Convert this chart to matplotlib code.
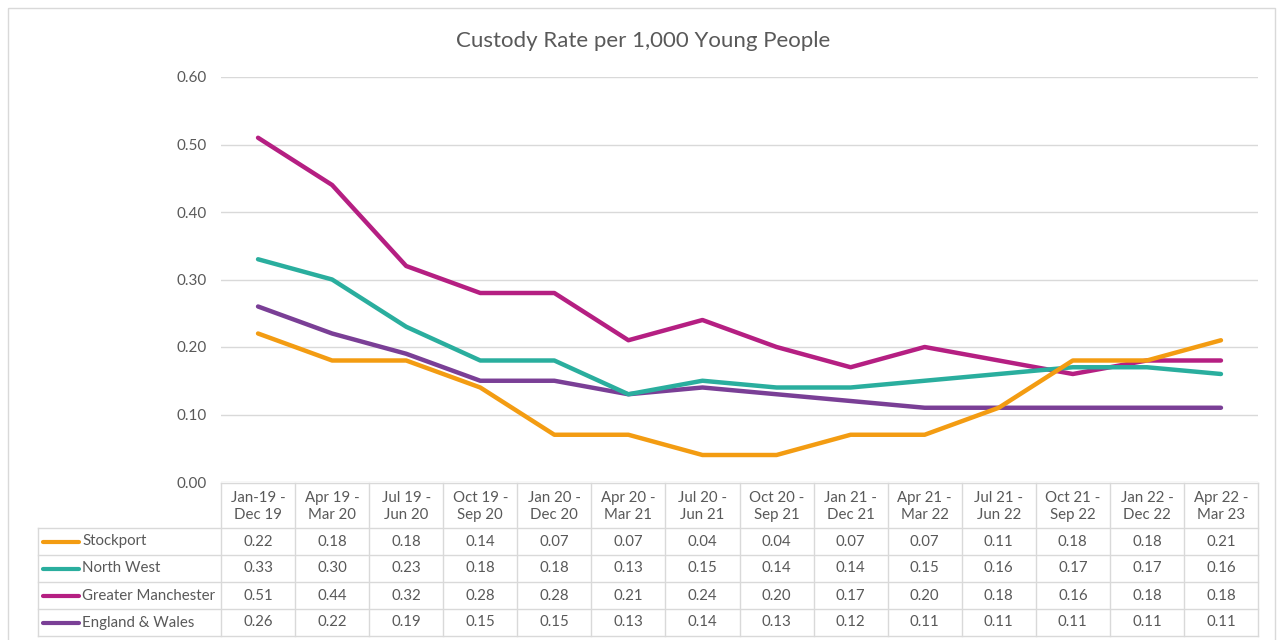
import matplotlib.pyplot as plt
from matplotlib.patches import Rectangle

# periods (two-line labels as shown in the data table)
periods = ["Jan-19 -\nDec 19", "Apr 19 -\nMar 20", "Jul 19 -\nJun 20", "Oct 19 -\nSep 20",
           "Jan 20 -\nDec 20", "Apr 20 -\nMar 21", "Jul 20 -\nJun 21", "Oct 20 -\nSep 21",
           "Jan 21 -\nDec 21", "Apr 21 -\nMar 22", "Jul 21 -\nJun 22", "Oct 21 -\nSep 22",
           "Jan 22 -\nDec 22", "Apr 22 -\nMar 23"]

stockport = [0.22, 0.18, 0.18, 0.14, 0.07, 0.07, 0.04, 0.04, 0.07, 0.07, 0.11, 0.18, 0.18, 0.21]
north_west = [0.33, 0.30, 0.23, 0.18, 0.18, 0.13, 0.15, 0.14, 0.14, 0.15, 0.16, 0.17, 0.17, 0.16]
greater_manchester = [0.51, 0.44, 0.32, 0.28, 0.28, 0.21, 0.24, 0.20, 0.17, 0.20, 0.18, 0.16, 0.18, 0.18]
england_wales = [0.26, 0.22, 0.19, 0.15, 0.15, 0.13, 0.14, 0.13, 0.12, 0.11, 0.11, 0.11, 0.11, 0.11]

series = [
    ("Stockport", stockport, "#F39C12"),
    ("North West", north_west, "#2AAE9E"),
    ("Greater Manchester", greater_manchester, "#B51F82"),
    ("England & Wales", england_wales, "#7A3F96"),
]

yticks = [0.0, 0.1, 0.2, 0.3, 0.4, 0.5, 0.6]

FONT = "Lato"
TXT = "#595959"
GRID = "#D9D9D9"

W, H = 1277, 640
fig = plt.figure(figsize=(W / 100, H / 100), dpi=100)

# plot area in pixels
left, right, top, bottom = 221, 1258, 77, 482
ax = fig.add_axes([left / W, 1 - bottom / H, (right - left) / W, (bottom - top) / H])

x = list(range(len(periods)))
# draw in reverse so Stockport sits on top like the original
for name, vals, col in series[::-1]:
    ax.plot(x, vals, color=col, lw=3.2, solid_capstyle="round", solid_joinstyle="round", zorder=3)

ax.set_xlim(-0.5, len(periods) - 0.5)
ax.set_ylim(0, 0.6)
ax.set_yticks(yticks)
ax.set_yticklabels([f"{v:.2f}" for v in yticks], fontfamily=FONT, fontsize=11, color=TXT)
ax.set_xticks([])
ax.tick_params(axis="y", length=0, pad=10)
ax.grid(axis="y", color=GRID, lw=1)
for s in ax.spines.values():
    s.set_visible(False)

# overlay in pixel coordinates for the frame, title and data table
ov = fig.add_axes([0, 0, 1, 1], zorder=-1)
ov.set_xlim(0, W)
ov.set_ylim(H, 0)
ov.axis("off")
ov.add_patch(Rectangle((8, 8), 1267, 640, fill=False, ec=GRID, lw=1))

ov.text(643, 41, "Custody Rate per 1,000 Young People", ha="center", va="center",
        fontfamily=FONT, fontsize=16, color=TXT)

top2 = fig.add_axes([0, 0, 1, 1], zorder=5)
top2.set_xlim(0, W)
top2.set_ylim(H, 0)
top2.axis("off")

colw = (right - left) / len(periods)
hdr_top, hdr_bot = 483, 528
rowh = 27
leg_left = 38
tbl_bot = hdr_bot + rowh * len(series)

# grid lines of table
top2.plot([left, right], [hdr_top, hdr_top], color=GRID, lw=1)
for i in range(len(series) + 1):
    yy = hdr_bot + i * rowh
    top2.plot([leg_left, right], [yy, yy], color=GRID, lw=1)
for i in range(len(periods) + 1):
    xx = left + i * colw
    top2.plot([xx, xx], [hdr_top, tbl_bot], color=GRID, lw=1)
top2.plot([leg_left, leg_left], [hdr_bot, tbl_bot], color=GRID, lw=1)

for i, p in enumerate(periods):
    top2.text(left + (i + 0.5) * colw, (hdr_top + hdr_bot) / 2 + 1, p, ha="center", va="center",
              fontfamily=FONT, fontsize=10.8, color=TXT, linespacing=1.25)

for r, (name, vals, col) in enumerate(series):
    yc = hdr_bot + (r + 0.5) * rowh
    top2.plot([43, 79], [yc, yc], color=col, lw=3, solid_capstyle="round")
    top2.text(82, yc, name, ha="left", va="center", fontfamily=FONT, fontsize=10.8, color=TXT)
    for i, v in enumerate(vals):
        top2.text(left + (i + 0.5) * colw, yc, f"{v:.2f}", ha="center", va="center",
                  fontfamily=FONT, fontsize=10.8, color=TXT)

fig.savefig("out.png", dpi=100, facecolor="white")
